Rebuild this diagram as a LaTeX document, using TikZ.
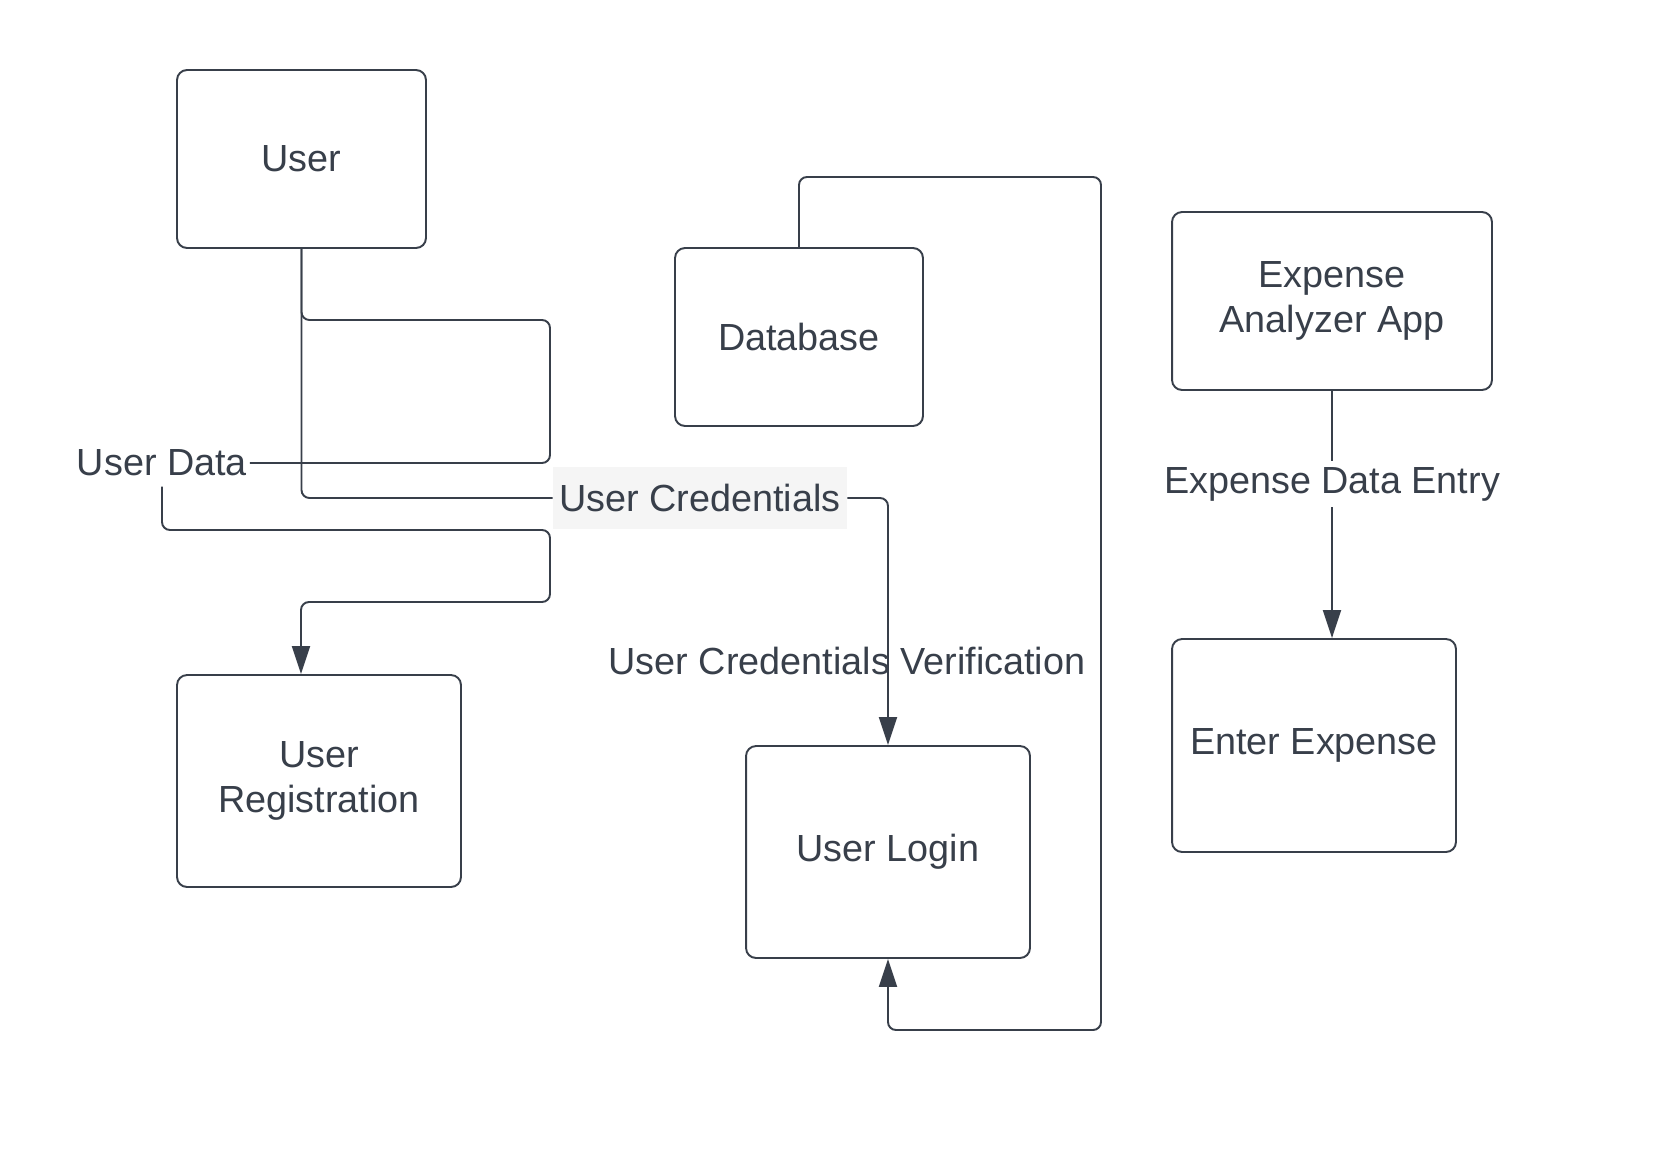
\documentclass[tikz,border=0pt]{standalone}
\usepackage{fontspec}
\setmainfont{Liberation Sans}
\usetikzlibrary{arrows.meta}
\definecolor{inkgray}{RGB}{56,63,74}
\definecolor{tagfill}{RGB}{245,245,245}
\tikzset{
	block/.style={draw=inkgray, line width=1.1pt, rounded corners=0.2cm, inner sep=0pt, align=center},
	tag/.style={inner xsep=0.05cm, inner ysep=0.2cm},
	link/.style={draw=inkgray, line width=1.1pt, rounded corners=0.16cm},
	arrowlink/.style={link, -{Triangle[length=0.56cm, width=0.36cm]}}
}

\begin{document}
\begin{tikzpicture}[x=0.02cm, y=-0.02cm, font=\fontsize{21.5}{25.6}\selectfont, text=inkgray]
		%%%%% START %%%%%
		\useasboundingbox (0, 0) rectangle (1654, 1164);
		
		\node[block, minimum width=4.98cm, minimum height=3.56cm] (user) at (301.5, 159) {User};
		\node[block, minimum width=4.96cm, minimum height=3.56cm] (db) at (799, 337) {Database};
		\node[block, minimum width=6.4cm, minimum height=3.56cm] (app) at (1332, 301) {Expense\\Analyzer App};
		\node[block, minimum width=5.68cm, minimum height=4.24cm] (ureg) at (319, 781) {User\\Registration};
		\node[block, minimum width=5.68cm, minimum height=4.24cm] (login) at (888, 852) {User Login};
		\node[block, minimum width=5.68cm, minimum height=4.26cm] (enter) at (1314, 745.5) {Enter Expense};
		
		\node[tag] (udata) at (162, 463) {User Data};
		\node[fill=tagfill, inner sep=0pt, minimum width=5.88cm, minimum height=1.24cm] (ucred) at (700, 498) {User Credentials};
		\node[inner sep=0pt] (verify) at (847, 661) {User Credentials Verification};
		\node[tag, inner ysep=0.12cm] (edata) at (1332, 484) {Expense Data Entry};
		
		% user data
		\draw[link] (user.south) |- (550, 320) -- (550, 463) -- (udata.east);
		\draw[arrowlink] (udata.south) |- (550, 530) -- (550, 602) -| ([xshift=-0.36cm]ureg.north);
		
		% credentials
		\draw[link] (user.south) |- (ucred.west);
		\draw[arrowlink] (ucred.east) -| (login.north);
		
		% verification
		\draw[arrowlink] (db.north) |- (1101, 177) -- (1101, 1030) -| (login.south);
		
		% expense entry
		\draw[link] (app.south) -- (edata.north);
		\draw[arrowlink] (edata.south) -- (edata.south |- enter.north);
		
		%%%%% END %%%%%
	\end{tikzpicture}
\end{document}
